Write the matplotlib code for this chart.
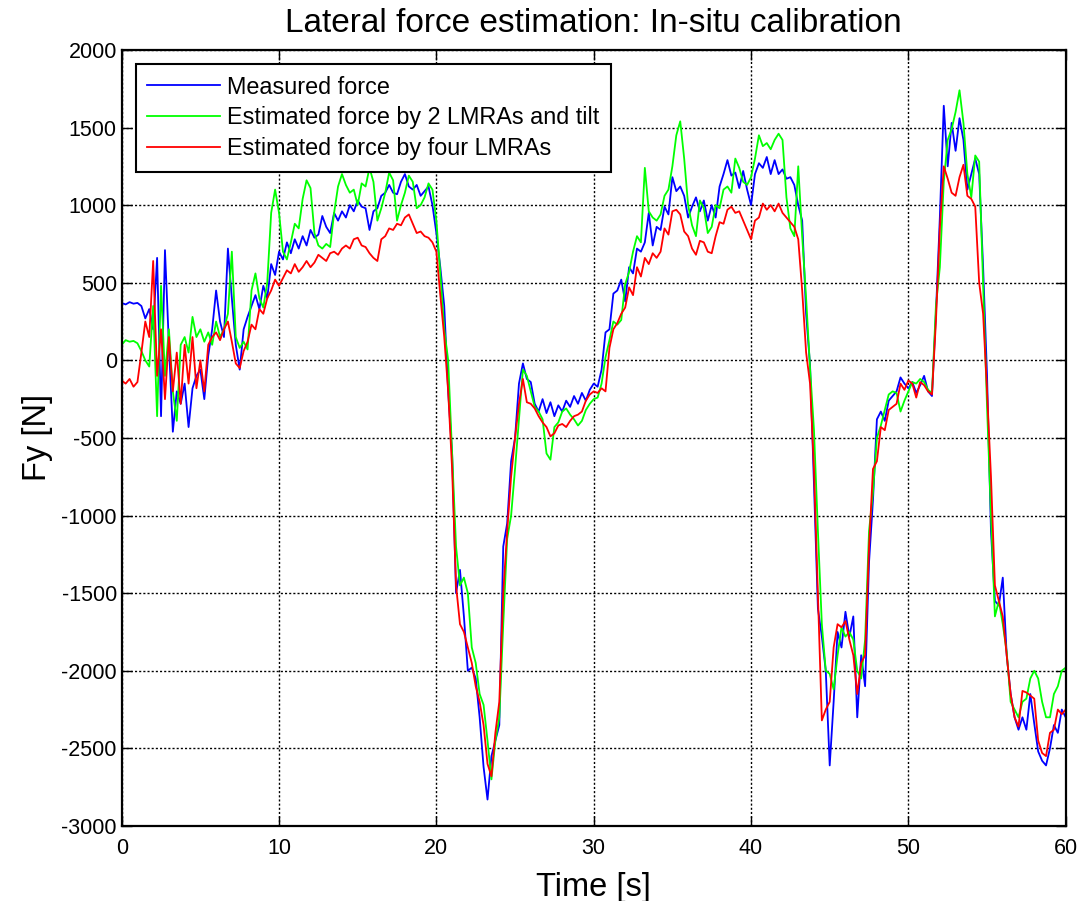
import numpy as np
import matplotlib
matplotlib.use('Agg')
from matplotlib import pyplot as plt

plt.rcParams['font.family'] = ['Liberation Sans', 'DejaVu Sans']
plt.rcParams['axes.unicode_minus'] = False

# sample times [s], one value every 0.25 s
time_s = np.linspace(0, 60, 241)

# measured lateral force [N]
measured = [370, 360, 375, 365, 370, 350, 270, 330, 200, 660, -360, 710, 100, -460, -200, -280, -150, -430, -180, -100,
            -60, -250, 30, 200, 450, 250, 150, 720, 400, 100, -60, 200, 280, 350, 420, 330, 480, 400, 620, 550,
            700, 650, 760, 690, 780, 720, 800, 740, 840, 790, 810, 930, 860, 820, 950, 900, 960, 920, 1000, 960,
            1030, 990, 980, 840, 960, 980, 1060, 1080, 1130, 1080, 1070, 1150, 1200, 1120, 1100, 1130, 1060, 1090, 1120, 1000,
            820, 600, 350, -200, -600, -1500, -1350, -1650, -2000, -1980, -2050, -2300, -2620, -2830, -2550, -2450, -2350, -1200, -1050, -650,
            -500, -150, -20, -120, -140, -280, -330, -250, -340, -270, -360, -290, -330, -260, -300, -230, -280, -210, -260, -190,
            -150, -170, -60, 180, 200, 430, 450, 520, 380, 600, 560, 720, 700, 760, 950, 740, 860, 840, 990, 940,
            1180, 1090, 1120, 1060, 920, 990, 1050, 960, 1030, 900, 1000, 920, 1120, 1200, 1290, 1190, 1210, 1110, 1220, 1100,
            1000, 1200, 1270, 1240, 1310, 1200, 1290, 1200, 1230, 1170, 1180, 1130, 1000, 900, 300, -30, -800, -1600, -1780, -2000,
            -2610, -2200, -1750, -1850, -1620, -1780, -1650, -2300, -1900, -2100, -1300, -900, -380, -330, -390, -260, -230, -200, -110, -150,
            -180, -140, -210, -160, -100, -200, -230, 300, 920, 1640, 1250, 1530, 1350, 1560, 1420, 1100, 1200, 1300, 1200, 600,
            -100, -1100, -1550, -1580, -1400, -1900, -2150, -2300, -2380, -2300, -2380, -2150, -2340, -2520, -2580, -2610, -2500, -2350, -2400, -2250, -2300]

# estimated by 2 LMRAs and tilt [N]
est_tilt = [100, 130, 120, 125, 110, 60, 0, -40, 350, -360, 480, -100, 200, -200, -390, 100, 150, 50, 280, 150,
            200, 120, 180, 100, 250, 150, 200, 300, 700, 150, 80, 120, 70, 450, 560, 400, 340, 500, 950, 1100,
            950, 700, 650, 760, 880, 850, 1040, 1160, 1110, 820, 740, 720, 750, 730, 950, 1120, 1200, 1130, 1080, 1100,
            1000, 1140, 1120, 1240, 1150, 900, 980, 1080, 1210, 1160, 900, 1000, 1080, 1190, 1150, 980, 1000, 1050, 1140, 1100,
            900, 560, 200, 0, -600, -1200, -1450, -1400, -1500, -1850, -1950, -2150, -2220, -2450, -2700, -2450, -2300, -1700, -1150, -1000,
            -700, -380, -60, -100, -200, -300, -330, -380, -600, -640, -430, -400, -330, -310, -350, -380, -420, -390, -320, -280,
            -250, -240, -150, 20, 130, 250, 230, 260, 490, 570, 700, 800, 760, 1240, 960, 920, 900, 940, 1060, 1100,
            1250, 1450, 1540, 1300, 1000, 870, 800, 1030, 980, 820, 860, 1000, 980, 1100, 1120, 1080, 1300, 1240, 1150, 1130,
            1180, 1300, 1450, 1380, 1400, 1360, 1420, 1460, 1420, 1050, 850, 800, 1250, 800, 400, -50, -450, -1100, -1700, -2000,
            -2020, -2120, -1900, -1720, -1780, -1750, -1800, -2000, -2050, -1800, -1100, -850, -500, -420, -320, -220, -200, -210, -330, -260,
            -200, -140, -150, -120, -140, -190, -210, 350, 600, 1150, 1420, 1490, 1600, 1740, 1530, 1200, 1050, 1320, 1280, 500,
            -300, -1000, -1650, -1550, -1700, -1880, -2200, -2250, -2300, -2200, -2180, -2050, -2000, -2050, -2200, -2300, -2300, -2150, -2100, -2000, -1980]

# estimated by four LMRAs [N]
est_four = [-130, -150, -120, -170, -140, 50, 250, 150, 640, -100, 200, -250, 150, -200, 50, -280, 100, -150, 150, -180,
            0, -200, 100, 150, 180, 130, 200, 250, 120, -20, -50, 60, 120, 230, 200, 330, 300, 400, 450, 520,
            480, 530, 580, 560, 620, 570, 600, 640, 600, 630, 680, 660, 640, 690, 700, 680, 720, 740, 720, 780,
            790, 740, 730, 690, 660, 640, 780, 800, 850, 840, 880, 870, 920, 940, 880, 820, 830, 800, 790, 760,
            700, 420, 150, -200, -700, -1450, -1700, -1750, -1850, -1950, -2100, -2200, -2350, -2600, -2680, -2400, -2200, -1500, -1100, -750,
            -500, -280, -120, -270, -280, -310, -360, -400, -430, -490, -470, -420, -410, -430, -390, -360, -350, -330, -260, -220,
            -200, -210, -180, -200, 80, 200, 240, 300, 340, 470, 420, 600, 540, 660, 620, 690, 660, 700, 850, 810,
            960, 970, 940, 830, 800, 720, 680, 770, 760, 700, 690, 800, 890, 880, 970, 990, 950, 960, 900, 840,
            780, 900, 920, 1010, 970, 1000, 960, 1010, 950, 920, 890, 860, 780, 450, 50, -150, -700, -1500, -2320, -2250,
            -2200, -1850, -1700, -1720, -1680, -1800, -1900, -2150, -1950, -1900, -1200, -700, -650, -430, -450, -320, -300, -280, -150, -190,
            -130, -150, -240, -140, -160, -200, -220, 250, 850, 1250, 1170, 1080, 1060, 1180, 1260, 1060, 1040, 990, 500, 300,
            -200, -750, -1450, -1550, -1650, -1900, -2150, -2300, -2360, -2130, -2140, -2160, -2180, -2450, -2530, -2550, -2400, -2380, -2250, -2280, -2250]

labels = ['Measured force', 'Estimated force by 2 LMRAs and tilt', 'Estimated force by four LMRAs']
x_ticks = [0, 10, 20, 30, 40, 50, 60]
y_ticks = np.arange(-3000, 2001, 500)

fig = plt.figure(figsize=(10.78, 9.01), dpi=100)
ax = fig.add_axes([0.1129, 0.0833, 0.8757, 0.8613])

ax.plot(time_s, measured, color=(0, 0, 1), lw=1.3, label=labels[0])
ax.plot(time_s, est_tilt, color=(0, 1, 0), lw=1.3, label=labels[1])
ax.plot(time_s, est_four, color=(1, 0, 0), lw=1.3, label=labels[2])

ax.set_xlim(0, 60)
ax.set_ylim(-3000, 2000)
ax.set_xticks(x_ticks)
ax.set_yticks(y_ticks)
ax.grid(True, color='black', linestyle=(0, (1.5, 1.5)), linewidth=1.0)
ax.tick_params(direction='in', length=7, width=1, top=True, right=True, labelsize=15.5)
ax.tick_params(axis='x', pad=9)
for sp in ax.spines.values():
    sp.set_linewidth(1.6)

ax.set_title('Lateral force estimation: In-situ calibration', fontsize=24, pad=13)
ax.set_xlabel('Time [s]', fontsize=23.5, labelpad=9)
ax.set_ylabel('Fy [N]', fontsize=23.5, labelpad=6)

leg = ax.legend(loc='upper left', fontsize=16.8, fancybox=False, framealpha=1,
                edgecolor='black', handlelength=3.1, handletextpad=0.3, labelspacing=0.33,
                borderaxespad=0.6, borderpad=0.5)
leg.get_frame().set_linewidth(1.5)

fig.savefig('out.png', dpi=100)
